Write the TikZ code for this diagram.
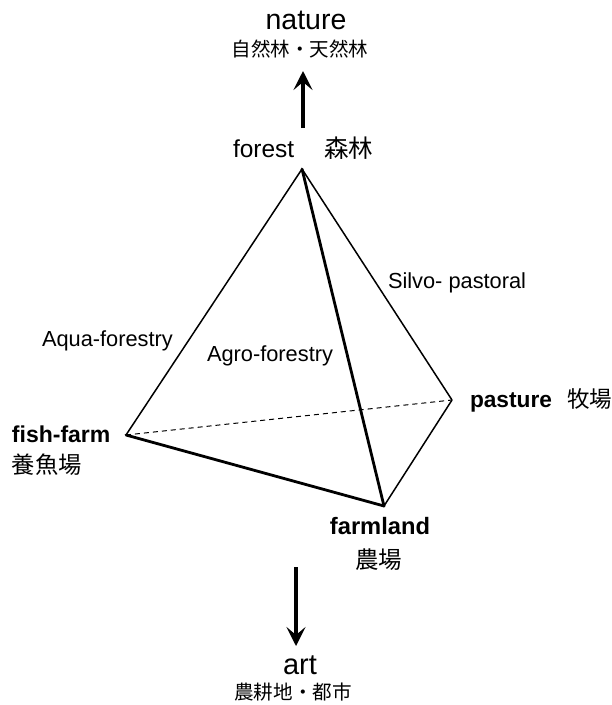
\documentclass[tikz,border=0pt]{standalone}
\usepackage{fontspec}
\setmainfont{Liberation Sans}
\newfontfamily\cjk{Noto Sans CJK JP}
\usetikzlibrary{arrows.meta}
\tikzset{
  lbl/.style={inner sep=0pt, outer sep=0pt},
  thin edge/.style={line width=1.5pt, line join=round},
  thick edge/.style={line width=2.8pt, line join=round, line cap=round},
  hidden edge/.style={line width=1pt, dash pattern=on 5pt off 4pt},
  bigarrow/.style={line width=3.2pt, -{Stealth[length=19pt,width=19pt,inset=8pt]}},
}
\begin{document}
\begin{tikzpicture}[x=1pt,y=-1pt]
\useasboundingbox (0,0) rectangle (612,705);
% vertices
\coordinate (F) at (302,169);
\coordinate (A) at (126,435);
\coordinate (P) at (452,400);
\coordinate (L) at (384,506);
% edges
\draw[hidden edge] (A) -- (P);
\draw[thin edge] (F) -- (A);
\draw[thin edge] (F) -- (P);
\draw[thin edge] (L) -- (P);
\draw[thick edge] (F) -- (L);
\draw[thick edge] (A) -- (L);
% top labels
\node[lbl, anchor=base] (nature) at (306,29) {\fontsize{28.5}{30}\selectfont nature};
\node[lbl, anchor=base] (naturejp) at (300,56) {\fontsize{19.5}{20}\selectfont\cjk 自然林・天然林};
\node[lbl, anchor=base west] (forest) at (233,157) {\fontsize{24.5}{26}\selectfont forest};
\node[lbl, anchor=base west] (forestjp) at (324,157) {\fontsize{24.5}{26}\selectfont\cjk 森林};
\coordinate (upS) at (303,128);
\coordinate (upE) at (303,71);
\draw[bigarrow] (upS) -- (upE);
% side labels
\node[lbl, anchor=base west] (fish) at (12,442) {\fontsize{23}{24}\selectfont\bfseries fish-farm};
\node[lbl, anchor=base west] (fishjp) at (12,473) {\fontsize{23.3}{24}\selectfont\cjk 養魚場};
\node[lbl, anchor=base west] (pasture) at (470,407) {\fontsize{22.7}{24}\selectfont\bfseries pasture};
\node[lbl, anchor=base west] (pasturejp) at (567,407) {\fontsize{22.5}{24}\selectfont\cjk 牧場};
\node[lbl, anchor=base] (farm) at (380,534) {\fontsize{23.7}{24}\selectfont\bfseries farmland};
\node[lbl, anchor=base] (farmjp) at (378.5,568) {\fontsize{23.5}{24}\selectfont\cjk 農場};
% edge labels
\node[lbl, anchor=base west] (aqua) at (42,346) {\fontsize{21.8}{22}\selectfont Aqua-forestry};
\node[lbl, anchor=base west] (agro) at (207,361) {\fontsize{21.8}{22}\selectfont Agro-forestry};
\node[lbl, anchor=base west] (silvo) at (388,288) {\fontsize{21.8}{22}\selectfont Silvo- pastoral};
% bottom
\coordinate (dnS) at (296,567);
\coordinate (dnE) at (296,646);
\draw[bigarrow] (dnS) -- (dnE);
\node[lbl, anchor=base] (art) at (300,674) {\fontsize{29}{30}\selectfont art};
\node[lbl, anchor=base] (artjp) at (293,699.5) {\fontsize{19.6}{20}\selectfont\cjk 農耕地・都市};
\end{tikzpicture}
\end{document}
